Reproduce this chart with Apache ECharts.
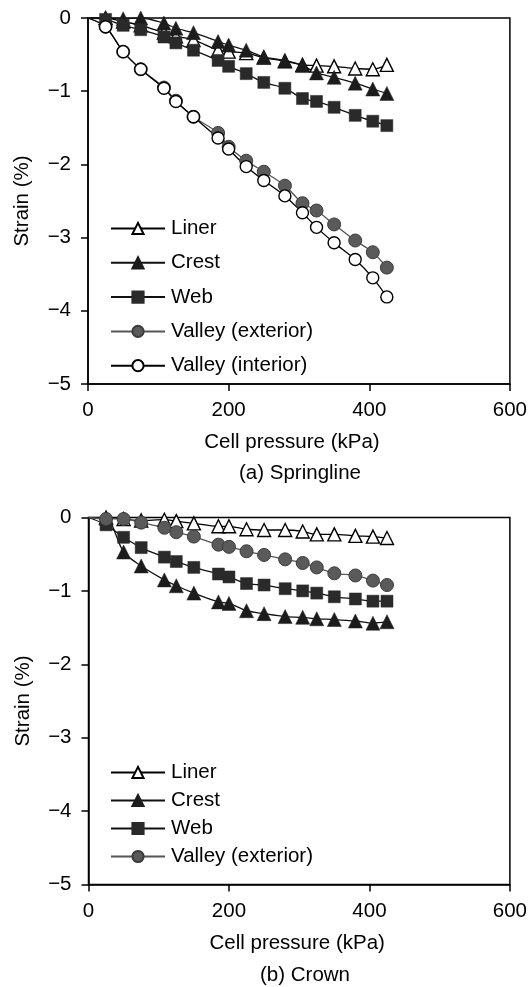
<!DOCTYPE html>
<html>
<head>
<meta charset="utf-8">
<script src="https://cdn.jsdelivr.net/npm/echarts@6/dist/echarts.min.js"></script>
<style>
html,body{margin:0;padding:0;background:#fff;}
#c{width:530px;height:987px;}
</style>
</head>
<body>
<div id="c"></div>
<script>
// Cell pressure (kPa) steps
const pressure = [0, 25, 50, 75, 108, 125, 150, 185, 200, 225, 250, 280, 305, 325, 350, 380, 405, 425];

// (a) Springline strains (%)
const springLiner   = [0, 0, -0.05, -0.1, -0.2, -0.25, -0.3, -0.44, -0.46, -0.48, -0.54, -0.59, -0.64, -0.65, -0.66, -0.69, -0.7, -0.64];
const springCrest   = [0, 0, -0.01, 0, -0.07, -0.14, -0.2, -0.32, -0.37, -0.44, -0.53, -0.58, -0.65, -0.75, -0.81, -0.89, -0.97, -1.03];
const springWeb     = [0, -0.02, -0.1, -0.16, -0.26, -0.34, -0.44, -0.58, -0.66, -0.76, -0.88, -0.96, -1.1, -1.14, -1.22, -1.33, -1.41, -1.47];
const springValExt  = [0, -0.12, -0.46, -0.7, -0.95, -1.13, -1.35, -1.57, -1.76, -1.95, -2.1, -2.29, -2.53, -2.63, -2.82, -3.04, -3.2, -3.41];
const springValInt  = [0, -0.12, -0.46, -0.7, -0.96, -1.14, -1.35, -1.64, -1.79, -2.03, -2.22, -2.43, -2.66, -2.86, -3.07, -3.3, -3.55, -3.81];

// (b) Crown strains (%)
const crownLiner    = [0, 0, -0.02, -0.04, -0.03, -0.05, -0.08, -0.12, -0.12, -0.16, -0.17, -0.17, -0.19, -0.23, -0.23, -0.25, -0.26, -0.28];
const crownCrest    = [0, -0.01, -0.47, -0.66, -0.85, -0.93, -1.03, -1.15, -1.17, -1.27, -1.31, -1.35, -1.36, -1.38, -1.39, -1.41, -1.44, -1.42];
const crownWeb      = [0, -0.1, -0.27, -0.41, -0.54, -0.6, -0.68, -0.77, -0.81, -0.9, -0.92, -0.97, -1.0, -1.03, -1.08, -1.11, -1.14, -1.14];
const crownValExt   = [0, -0.02, -0.02, -0.07, -0.14, -0.2, -0.26, -0.37, -0.4, -0.46, -0.51, -0.57, -0.62, -0.68, -0.76, -0.79, -0.86, -0.92];

const xTicks = [0, 200, 400, 600];
const yTicks = [0, -1, -2, -3, -4, -5];

const FONT = 'Liberation Sans, Arial, sans-serif';
const FS = 20.5;

function pts(vals) {
  return pressure.map((p, i) => i === 0 ? { value: [p, vals[i]], symbol: 'none' } : [p, vals[i]]);
}

const styles = {
  'Liner': { symbol: 'triangle', size: 13, fill: '#ffffff', border: '#000', bw: 1.4, line: '#000' },
  'Crest': { symbol: 'triangle', size: 14, fill: '#1c1c1c', border: '#1c1c1c', bw: 0.5, line: '#111' },
  'Web': { symbol: 'rect', size: 12, fill: '#2a2a2a', border: '#2a2a2a', bw: 0.5, line: '#111' },
  'Valley (exterior)': { symbol: 'circle', size: 13, fill: '#5a5a5a', border: '#3c3c3c', bw: 1, line: '#555' },
  'Valley (interior)': { symbol: 'circle', size: 12, fill: '#ffffff', border: '#000', bw: 1.4, line: '#000' }
};

function mkSeries(name, vals, idx) {
  const s = styles[name];
  return {
    type: 'line', name: name, xAxisIndex: idx, yAxisIndex: idx,
    data: pts(vals), smooth: 0.3,
    symbol: s.symbol, symbolSize: s.size, showAllSymbol: true,
    lineStyle: { color: s.line, width: 1.3 },
    itemStyle: { color: s.fill, borderColor: s.border, borderWidth: s.bw, opacity: 1 },
    emphasis: { disabled: true },
    animation: false
  };
}

function fmt(v) { return v < 0 ? '\u2212' + Math.abs(v) : String(v); }

function xAx(idx) {
  return {
    type: 'value', gridIndex: idx, min: xTicks[0], max: xTicks[xTicks.length - 1], interval: 200,
    name: 'Cell pressure (kPa)', nameLocation: 'middle', nameGap: 48,
    nameTextStyle: { fontFamily: FONT, fontSize: FS, color: '#000', padding: idx === 0 ? [0, 14, 0, 0] : [0, 4, 0, 0] },
    axisLine: { show: true, onZero: false, lineStyle: { color: '#000', width: 1.5 } },
    axisTick: { show: true, inside: false, length: 7, lineStyle: { color: '#000', width: 1.5 } },
    axisLabel: { fontFamily: FONT, fontSize: FS, color: '#000', margin: 16, formatter: fmt },
    splitLine: { show: false }
  };
}
function yAx(idx) {
  return {
    type: 'value', gridIndex: idx, min: yTicks[yTicks.length - 1], max: yTicks[0], interval: 1,
    name: 'Strain (%)', nameLocation: 'middle', nameGap: 55, nameRotate: 90,
    nameTextStyle: { fontFamily: FONT, fontSize: FS, color: '#000' },
    axisLine: { show: true, onZero: false, lineStyle: { color: '#000', width: 1.5 } },
    axisTick: { show: true, inside: false, length: 7, lineStyle: { color: '#000', width: 1.5 } },
    axisLabel: { fontFamily: FONT, fontSize: FS, color: '#000', margin: 17, formatter: fmt },
    splitLine: { show: false }
  };
}

const chart = echarts.init(document.getElementById('c'), null, { renderer: 'canvas' });
chart.setOption({
  backgroundColor: '#fff',
  animation: false,
  grid: [
    { left: 88, top: 18, width: 427, height: 366, show: true, borderColor: '#000', borderWidth: 1.5, backgroundColor: 'transparent' },
    { left: 88.5, top: 517.5, width: 429.5, height: 367, show: true, borderColor: '#000', borderWidth: 1.5, backgroundColor: 'transparent' }
  ],
  xAxis: [xAx(0), xAx(1)],
  yAxis: [yAx(0), yAx(1)],
  legend: [
    {
      orient: 'vertical', left: 110, top: 218, padding: 0,
      itemWidth: 54, itemHeight: 14, itemGap: 13.3,
      textStyle: { fontFamily: FONT, fontSize: FS, color: '#000', padding: [0, 0, 0, 1] },
      data: ['Liner', 'Crest', 'Web', 'Valley (exterior)', 'Valley (interior)'],
      selectedMode: false
    },
    {
      orient: 'vertical', left: 110, top: 762, padding: 0,
      itemWidth: 54, itemHeight: 14, itemGap: 7,
      textStyle: { fontFamily: FONT, fontSize: FS, color: '#000', padding: [0, 0, 0, 1] },
      data: ['Liner', 'Crest', 'Web', 'Valley (exterior)'],
      selectedMode: false
    }
  ],
  graphic: [
    { type: 'text', x: 300, y: 473, style: { text: '(a) Springline', font: FS + 'px ' + FONT, fill: '#000', align: 'center', verticalAlign: 'middle' } },
    { type: 'text', x: 305, y: 975, style: { text: '(b) Crown', font: FS + 'px ' + FONT, fill: '#000', align: 'center', verticalAlign: 'middle' } }
  ],
  series: [
    mkSeries('Liner', springLiner, 0),
    mkSeries('Crest', springCrest, 0),
    mkSeries('Web', springWeb, 0),
    mkSeries('Valley (exterior)', springValExt, 0),
    mkSeries('Valley (interior)', springValInt, 0),
    mkSeries('Liner', crownLiner, 1),
    mkSeries('Crest', crownCrest, 1),
    mkSeries('Web', crownWeb, 1),
    mkSeries('Valley (exterior)', crownValExt, 1)
  ]
});
</script>
</body>
</html>
